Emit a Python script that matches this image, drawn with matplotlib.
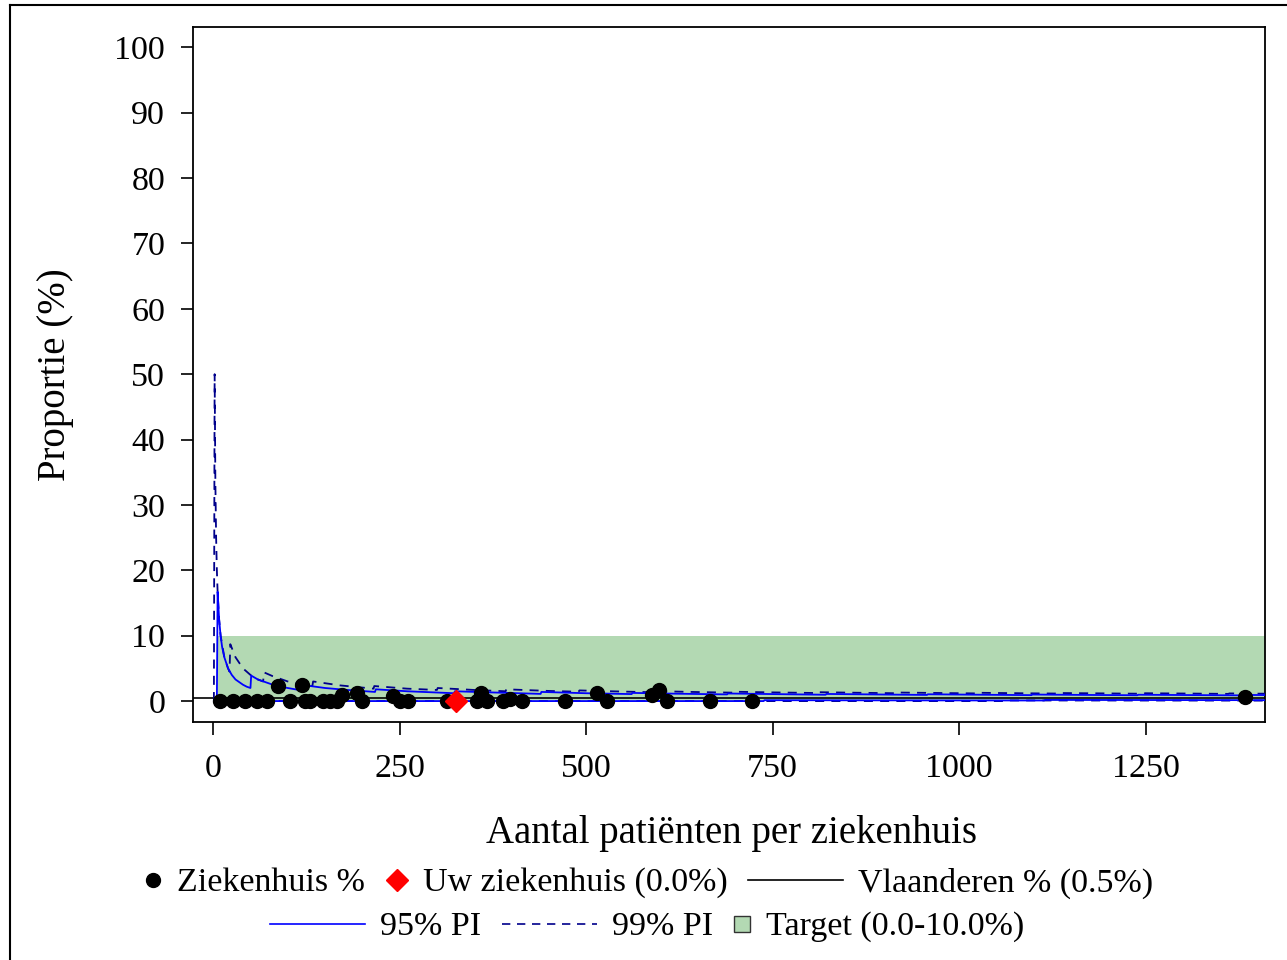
import matplotlib
matplotlib.use('Agg')
import matplotlib.pyplot as plt
from matplotlib.lines import Line2D
from matplotlib.patches import Rectangle

plt.rcParams['font.family'] = ['Liberation Serif', 'DejaVu Serif']

# hospitals: number of patients and proportion (%)
n_hosp = [9, 27, 43, 59, 72, 87, 103, 119, 123, 130, 147, 157, 166, 173, 193, 200,
          241, 251, 261, 314, 354, 359, 367, 389, 398, 414, 472, 515, 528, 588,
          598, 609, 666, 723, 1383]
pct_hosp = [0, 0, 0, 0, 0, 2.3, 0, 2.5, 0, 0, 0, 0, 0, 0.9, 1.2, 0,
            0.8, 0, 0, 0, 0, 1.3, 0, 0, 0.25, 0, 0, 1.3, 0, 0.9,
            1.7, 0, 0, 0, 0.7]

own_n = [326]
own_pct = [0.0]

flanders_pct = 0.5
target_lo, target_hi = 0.0, 10.0

# prediction interval curves
n_95hi = [1, 5, 6, 8, 10, 12, 15, 20, 25, 30, 35, 40, 45, 50, 51, 60, 70, 80, 90, 100,
          110, 123, 124, 150, 180, 217, 218, 260, 323, 324, 380, 439, 440, 500, 561,
          562, 620, 689, 690, 750, 821, 822, 900, 957, 958, 1030, 1097, 1098, 1170,
          1239, 1240, 1320, 1383, 1384, 1410]
p_95hi = [0, 0, 16.7, 12.5, 10.0, 8.3, 6.7, 5.0, 4.0, 3.3, 2.9, 2.5, 2.2, 2.0, 3.9, 3.3,
          2.9, 2.5, 2.2, 2.0, 1.8, 1.6, 2.4, 2.0, 1.7, 1.4, 1.8, 1.5, 1.2, 1.5, 1.3,
          1.1, 1.4, 1.2, 1.07, 1.25, 1.13, 1.02, 1.16, 1.07, 0.97, 1.09, 1.0, 0.94,
          1.04, 0.97, 0.91, 1.0, 0.94, 0.89, 0.97, 0.91, 0.87, 0.94, 0.92]

n_95lo = [1, 738, 739, 900, 1114, 1115, 1410]
p_95lo = [0, 0, 0.135, 0.11, 0.09, 0.18, 0.14]

n_99hi = [1, 2, 3, 4, 5, 6, 8, 10, 15, 20, 22, 23, 30, 40, 50, 60, 67, 68, 80, 100,
          120, 133, 134, 170, 215, 216, 260, 300, 301, 350, 392, 393, 450, 490, 491,
          550, 592, 593, 650, 697, 698, 750, 805, 806, 860, 915, 916, 970, 1025, 1026,
          1090, 1135, 1136, 1200, 1248, 1249, 1310, 1361, 1362, 1410]
p_99hi = [0, 50.0, 33.3, 25.0, 20.0, 16.7, 12.5, 10.0, 6.7, 5.0, 4.5, 8.7, 6.7, 5.0, 4.0,
          3.3, 3.0, 4.4, 3.8, 3.0, 2.5, 2.3, 3.0, 2.4, 1.9, 2.3, 1.9, 1.7, 2.0, 1.7, 1.5,
          1.8, 1.55, 1.43, 1.63, 1.45, 1.35, 1.52, 1.38, 1.29, 1.43, 1.33, 1.24, 1.37,
          1.28, 1.2, 1.31, 1.24, 1.17, 1.27, 1.19, 1.15, 1.23, 1.17, 1.12, 1.2, 1.15,
          1.1, 1.17, 1.13]

n_99lo = [1, 1060, 1061, 1410]
p_99lo = [0, 0, 0.094, 0.071]

xlim = (-27, 1410)
ylim = (-3.2, 103.1)

W, H = 1287, 960
fig = plt.figure(figsize=(W / 100, H / 100), dpi=100)
ax = fig.add_axes([193 / W, 1 - 722 / H, (1265 - 193) / W, (722 - 27) / H])

green = '#b3d9b3'
navy = '#00008b'
dash = (0, (5, 4))

ax.fill_between([6, xlim[1]], target_lo, target_hi, color=green, lw=0, zorder=1)
ax.axhline(flanders_pct, color='black', lw=1.2, zorder=2)
ax.plot(n_99hi, p_99hi, color=navy, lw=1.3, ls=dash, zorder=3)
ax.plot(n_99lo, p_99lo, color=navy, lw=1.3, ls=dash, zorder=3)
ax.plot(n_95hi, p_95hi, color='blue', lw=1.3, zorder=4)
ax.plot(n_95lo, p_95lo, color='blue', lw=1.3, zorder=4)
ax.plot(n_hosp, pct_hosp, 'o', color='black', ms=10, zorder=5)
ax.plot(own_n, own_pct, 'D', color='red', ms=11, zorder=6)

ax.set_xlim(*xlim)
ax.set_ylim(*ylim)
ax.set_xticks([0, 250, 500, 750, 1000, 1250])
ax.set_yticks(range(0, 101, 10))
ax.tick_params(labelsize=24.5, length=9, width=1.2)
ax.tick_params(axis='x', pad=14)
ax.tick_params(axis='y', pad=11)
for s in ax.spines.values():
    s.set_linewidth(1.3)

fig.text(731 / W, 1 - 833 / H, 'Aantal patiënten per ziekenhuis', fontsize=28,
         ha='center', va='center')
fig.text(55 / W, 1 - 375 / H, 'Proportie (%)', fontsize=28, rotation=90,
         ha='center', va='center')

# legend, drawn row by row
def fx(px):
    return px / W

def fy(py):
    return 1 - py / H

def entry_text(x, y, s):
    fig.text(fx(x), fy(y + 3), s, fontsize=24.5, ha='left', va='center')

y1, y2 = 880, 924
fig.add_artist(Line2D([fx(153)], [fy(y1)], marker='o', color='black', ms=10, ls='none'))
entry_text(177, y1, 'Ziekenhuis %')
fig.add_artist(Line2D([fx(397)], [fy(y1)], marker='D', color='red', ms=11, ls='none'))
entry_text(423, y1, 'Uw ziekenhuis (0.0%)')
fig.add_artist(Line2D([fx(748), fx(843)], [fy(y1), fy(y1)], color='black', lw=1.2))
entry_text(858, y1, 'Vlaanderen % (0.5%)')

fig.add_artist(Line2D([fx(270), fx(365)], [fy(y2), fy(y2)], color='blue', lw=1.2))
entry_text(380, y2, '95% PI')
fig.add_artist(Line2D([fx(502), fx(597)], [fy(y2), fy(y2)], color=navy, lw=1.2, ls=dash))
entry_text(612, y2, '99% PI')
fig.add_artist(Rectangle((fx(734), fy(y2 + 8)), 16 / W, 16 / H, facecolor=green,
                         edgecolor='#333333', lw=1.0))
entry_text(766, y2, 'Target (0.0-10.0%)')

# outer frame
fig.add_artist(Line2D([fx(10), fx(W)], [fy(5), fy(5)], color='black', lw=1.5))
fig.add_artist(Line2D([fx(10), fx(10)], [fy(5), fy(H)], color='black', lw=1.5))

fig.savefig('out.png', dpi=100)
